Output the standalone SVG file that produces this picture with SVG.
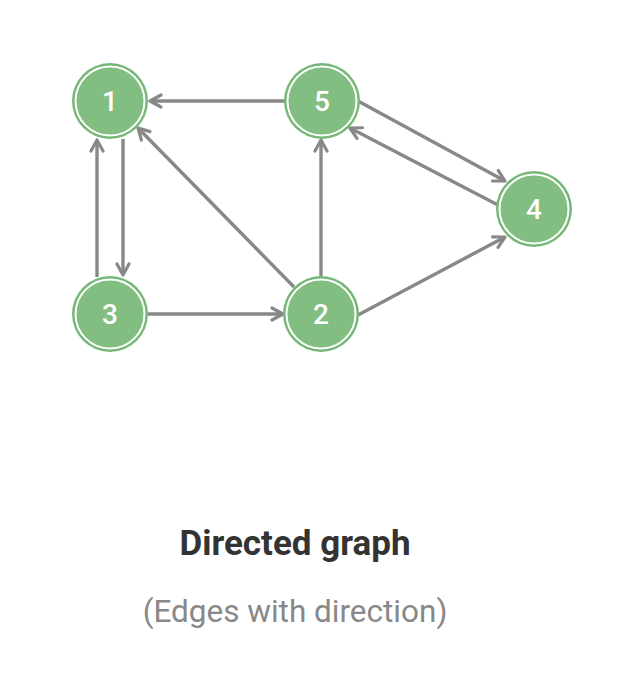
<svg xmlns="http://www.w3.org/2000/svg" width="635" height="675" viewBox="0 0 635 675">
  <defs>
    <marker id="arrow" viewBox="0 0 16 16" refX="14" refY="8" markerWidth="16" markerHeight="16" markerUnits="userSpaceOnUse" orient="auto">
      <path d="M3,2 L14,8 L3,14" fill="none" stroke="#888888" stroke-width="3.2" stroke-linecap="round" stroke-linejoin="round"/>
    </marker>
  </defs>
  <style>
    .edge { stroke: #888888; stroke-width: 3.4; fill: none; marker-end: url(#arrow); }
    .ring { fill: #74b876; }
    .disc { fill: #82bd82; stroke: #ffffff; stroke-width: 2; }
    .label { font-family: Roboto, "Liberation Sans", sans-serif; font-size: 28px; font-weight: 500; fill: #ffffff; text-anchor: middle; }
    .title { font-family: Roboto, "Liberation Sans", sans-serif; font-size: 35px; font-weight: 700; fill: #333333; text-anchor: middle; }
    .subtitle { font-family: Roboto, "Liberation Sans", sans-serif; font-size: 31.5px; fill: #888888; text-anchor: middle; }
  </style>
  <rect width="635" height="675" fill="#ffffff"/>

  <g id="connectors">
    <line class="edge" x1="285" y1="101" x2="150" y2="101"/>
    <line class="edge" x1="123" y1="139" x2="123" y2="275"/>
    <line class="edge" x1="97" y1="277" x2="97" y2="140"/>
    <line class="edge" x1="148" y1="314" x2="283" y2="314"/>
    <line class="edge" x1="294" y1="287" x2="138" y2="128"/>
    <line class="edge" x1="321" y1="276" x2="321" y2="140"/>
    <line class="edge" x1="358" y1="101" x2="505" y2="181"/>
    <line class="edge" x1="498" y1="205" x2="350" y2="128"/>
    <line class="edge" x1="358" y1="315" x2="505" y2="237"/>
  </g>

  <g id="node-1">
    <circle class="ring" cx="110" cy="101" r="38"/>
    <circle class="disc" cx="110" cy="101" r="34.5"/>
    <text class="label" x="110" y="111">1</text>
  </g>
  <g id="node-5">
    <circle class="ring" cx="322" cy="101" r="38"/>
    <circle class="disc" cx="322" cy="101" r="34.5"/>
    <text class="label" x="322" y="111">5</text>
  </g>
  <g id="node-4">
    <circle class="ring" cx="534" cy="209" r="38"/>
    <circle class="disc" cx="534" cy="209" r="34.5"/>
    <text class="label" x="534" y="219">4</text>
  </g>
  <g id="node-3">
    <circle class="ring" cx="110" cy="314" r="38"/>
    <circle class="disc" cx="110" cy="314" r="34.5"/>
    <text class="label" x="110" y="324">3</text>
  </g>
  <g id="node-2">
    <circle class="ring" cx="321" cy="314" r="38"/>
    <circle class="disc" cx="321" cy="314" r="34.5"/>
    <text class="label" x="321" y="324">2</text>
  </g>

  <text class="title" x="295" y="555">Directed graph</text>
  <text class="subtitle" x="295" y="622">(Edges with direction)</text>
</svg>
